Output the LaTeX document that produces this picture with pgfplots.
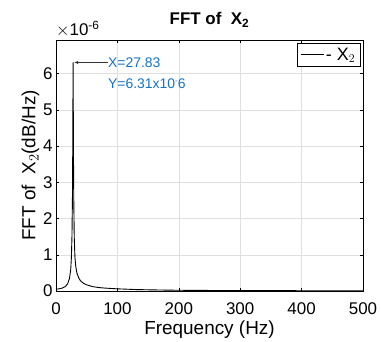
\documentclass[border=0pt]{standalone}
\usepackage{pgfplots}
\pgfplotsset{compat=1.18}
\usepackage{fontspec}
\setmainfont{Liberation Sans}
\usetikzlibrary{calc,arrows.meta}
\definecolor{mblue}{RGB}{20,115,200}
\begin{document}
\begin{tikzpicture}
\begin{axis}[
  name=ax,
  scale only axis,
  width=307bp, height=251bp,
  xmin=0, xmax=500, ymin=0, ymax=6.93,
  xtick={0,100,...,500}, ytick={0,1,...,6},
  tick align=inside,
  major tick length=3bp,
  grid=major,
  grid style={gray!25, line width=0.5pt},
  axis line style={line width=0.6pt},
  tick style={black, line width=0.5pt},
  ticklabel style={font=\fontsize{17}{19}\selectfont},
  xticklabel style={yshift=-8bp},
  /pgf/number format/assume math mode=true,
  xlabel={Frequency (Hz)},
  ylabel={FFT of\ \ X$_2$(dB/Hz)},
  label style={font=\fontsize{19}{21}\selectfont},
  xlabel style={yshift=1bp},
  ylabel style={yshift=-3bp},
  title={\textbf{FFT of\ \ X$_\mathbf{2}$}},
  title style={font=\fontsize{17}{19}\selectfont, yshift=3bp},
  legend style={at={(0.99,0.988)}, anchor=north east, draw=black, font=\fontsize{18}{20}\selectfont, inner sep=2.5pt},
  legend image code/.code={\draw[#1] (0bp,0bp) -- (23bp,0bp);},
  legend cell align=left,
  clip=false,
]
\addplot[black, line width=0.9pt] coordinates {
(0,0.05) (5,0.06) (10,0.08) (15,0.12) (19,0.2) (22,0.35) (24,0.6) (25,0.9) (26,1.5) (26.8,2.6) (27.3,4.0) (27.6,5.3) (27.83,6.31)
(28.1,5.3) (28.4,4.0) (28.9,2.6) (29.7,1.5) (30.8,0.95) (32,0.7) (34,0.5) (37,0.36) (40,0.28) (45,0.21) (50,0.17) (60,0.12)
(70,0.095) (80,0.08) (100,0.06) (130,0.04) (160,0.03) (200,0.02) (250,0.015) (300,0.012) (400,0.008) (500,0.006)
};
\addlegendentry{- X$_2$}
\draw[-{Latex[length=4bp,width=3bp]}, line width=0.4pt, black!80] (axis cs:84,6.31) -- (axis cs:29.5,6.31);
\node[anchor=west, text=mblue, font=\fontsize{14}{16}\selectfont, inner sep=0pt] at (axis cs:84.5,6.31) {X=27.83};
\node[anchor=west, text=mblue, font=\fontsize{14}{16}\selectfont, inner sep=0pt] at (axis cs:84.5,5.72) {Y=6.31x10\raisebox{0.7ex}{\footnotesize -}6};
\node[anchor=south west, inner sep=0pt, font=\fontsize{17}{19}\selectfont] at (rel axis cs:0,1.012) {$\times$10\textsuperscript{-6}};
\end{axis}
\pgfresetboundingbox
\path ($(ax.south west)+(-56bp,-51bp)$) rectangle ($(ax.north east)+(18bp,40bp)$);
\end{tikzpicture}
\end{document}
